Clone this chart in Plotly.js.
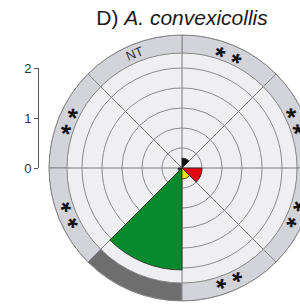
<!DOCTYPE html>
<html><head><meta charset="utf-8">
<script src="https://cdn.plot.ly/plotly-3.0.1.min.js"></script>
<style>html,body{margin:0;padding:0;overflow:hidden;background:#fff}#chart{width:330px;height:305px}</style>
</head><body><div id="chart"></div>
<script>
// ---- data ----
const sectorCenters = [22.5, 67.5, 112.5, 157.5, 202.5, 247.5, 292.5, 337.5];
const activity = [0, 0.2, 0, 0, 0.08, 2.04, 0.22, 0.4];
const sectorColors = ['#3b6fb6', '#111111', '#f39200', '#7f4f9f', '#1d2b5c', '#078a2e', '#f2e400', '#e30613'];
const ringShade = ['light', 'light', 'light', 'light', 'light', 'dark', 'light', 'light'];
const sigLabels = ['* *', '* *', 'NT', '* *', '* *', '', '* *', '* *'];
const scaleTicks = [0, 1, 2];
const gridRadii = [0.4, 0.8, 1.2, 1.6, 2.0];

// ---- geometry / style ----
const W = 330, H = 305, mL = 20, mR = 15, mT = 35, mB = 4;
const plotW = W - mL - mR, plotH = H - mT - mB;
const polarR = plotH / 2;
const polarX0 = (plotW - 2 * polarR) / plotW;
const rMax = 2.66, ringIn = 2.3;
const FONT = 'Liberation Sans, Arial, sans-serif';

const ringTrace = {
  type: 'barpolar',
  theta: sectorCenters,
  r: sectorCenters.map(() => rMax - ringIn),
  base: sectorCenters.map(() => ringIn),
  width: sectorCenters.map(() => 45),
  marker: {
    color: ringShade.map(s => s === 'dark' ? '#6e6e6e' : '#d3d3da'),
    line: {color: '#858585', width: 1}
  },
  hoverinfo: 'skip', showlegend: false
};

const dataTrace = {
  type: 'barpolar',
  theta: sectorCenters,
  r: activity,
  width: sectorCenters.map(() => 45),
  marker: {color: sectorColors, line: {color: '#2a2a2a', width: 0.8}},
  hoverinfo: 'skip', showlegend: false
};

const dummy = {type: 'scatter', x: [], y: [], xaxis: 'x', yaxis: 'y', hoverinfo: 'skip', showlegend: false};

const xc = (polarX0 * plotW + polarR) / plotW;
const annotations = [];
sigLabels.forEach((lab, i) => {
  if (!lab) return;
  const th = sectorCenters[i] * Math.PI / 180;
  const isStar = lab.indexOf('*') >= 0;
  const rr = isStar ? 2.36 : 2.47;
  annotations.push({
    xref: 'paper', yref: 'paper',
    x: xc + (rr / rMax) * (polarR / plotW) * Math.cos(th),
    y: 0.5 + (rr / rMax) * (polarR / plotH) * Math.sin(th),
    text: lab, showarrow: false, xanchor: 'center', yanchor: 'middle',
    textangle: 90 - sectorCenters[i],
    font: {family: FONT, size: isStar ? 26 : 13, color: isStar ? '#111' : '#333', weight: isStar ? 'bold' : 'normal'}
  });
});

const layout = {
  width: W, height: H,
  margin: {l: mL, r: mR, t: mT, b: mB},
  paper_bgcolor: '#fff', plot_bgcolor: 'rgba(0,0,0,0)',
  showlegend: false,
  title: {
    text: 'D) <i>A. convexicollis</i>',
    font: {family: FONT, size: 21, color: '#1a1a1a'},
    xref: 'paper', x: xc, xanchor: 'center',
    yref: 'container', y: 1 - 18 / H, yanchor: 'middle'
  },
  polar: {
    domain: {x: [polarX0, 1], y: [0, 1]},
    bgcolor: '#efeff2',
    barmode: 'overlay',
    radialaxis: {
      range: [0, rMax], tickvals: gridRadii, showticklabels: false, ticks: '',
      showline: false, gridcolor: '#8a8a8a', gridwidth: 1
    },
    angularaxis: {
      direction: 'counterclockwise', rotation: 0, thetaunit: 'degrees',
      tickvals: [0, 45, 90, 135, 180, 225, 270, 315], showticklabels: false, ticks: '',
      gridcolor: '#7a7a7a', gridwidth: 1, showline: true, linecolor: '#858585', linewidth: 1
    }
  },
  xaxis: {domain: [0, 0.05], range: [0, 1], visible: false},
  yaxis: {
    domain: [(plotH - (168 - mT)) / plotH, (plotH - (68 - mT)) / plotH],
    range: [0, 2], tickvals: scaleTicks, ticks: 'outside', ticklen: 4, tickcolor: '#555',
    showline: true, linecolor: '#555', linewidth: 1, showgrid: false, zeroline: false,
    anchor: 'free', position: (38 - mL) / plotW,
    tickfont: {family: FONT, size: 13, color: '#333'}
  },
  annotations: annotations
};

Plotly.newPlot('chart', [ringTrace, dataTrace, dummy], layout, {staticPlot: true, displayModeBar: false});
</script>
</body></html>
